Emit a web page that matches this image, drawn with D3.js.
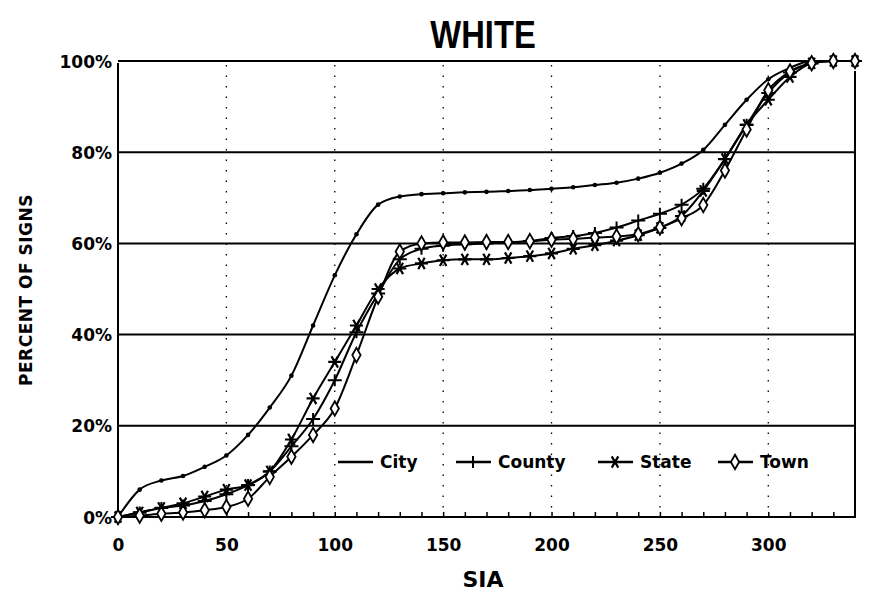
<!DOCTYPE html>
<html>
<head>
<meta charset="utf-8">
<script src="https://cdn.jsdelivr.net/npm/d3@7"></script>
<style>
  body { margin: 0; background: #fff; }
  text { fill: #000; }
</style>
</head>
<body>
<div id="chart"></div>
<script>
// SIA values where each series was sampled
var sia = [0, 10, 20, 30, 40, 50, 60, 70, 80, 90, 100, 110, 120, 130, 140, 150, 160,
  170, 180, 190, 200, 210, 220, 230, 240, 250, 260, 270, 280, 290, 300, 310, 320, 330, 340];

// Cumulative percent of signs
var cityPct = [0, 6, 8, 9, 11, 13.5, 18, 24, 31, 42, 53, 62, 68.5, 70.3, 70.8, 71, 71.2,
  71.3, 71.5, 71.7, 72, 72.3, 72.8, 73.3, 74.2, 75.5, 77.5, 80.5, 86, 91.5, 96, 98.5, 100, 100, 100];
var countyPct = [0, 1, 2, 2.5, 3.5, 5, 7, 10, 15.5, 21.5, 30, 40.5, 49, 56.5, 58.8, 59.5, 59.8,
  60, 60.2, 60.5, 61.2, 61.6, 62.3, 63.5, 65, 66.5, 68.5, 72, 78.5, 86, 93, 97.5, 99.5, 100, 100];
var statePct = [0, 1, 2, 3, 4.5, 6, 7, 10, 17, 26, 34, 42, 50, 54.5, 55.6, 56.3, 56.5,
  56.5, 56.8, 57.2, 57.8, 58.8, 59.6, 60.6, 61.8, 63.4, 66, 71.5, 78.5, 86, 91.5, 96.5, 99.5, 100, 100];
var townPct = [0, 0.3, 0.7, 1, 1.5, 2.2, 4, 8.8, 13.2, 18, 23.8, 35.5, 48.3, 58.2, 60, 60.2, 60.2,
  60.3, 60.3, 60.5, 60.8, 61, 61.3, 61.5, 62, 63.5, 65.5, 68.4, 76, 85, 93.6, 97.7, 99.5, 100, 100];

var seriesNames = ["City", "County", "State", "Town"];
var xTicks = [0, 50, 100, 150, 200, 250, 300];
var xMinorTicks = [10, 20, 30, 40, 50, 60, 70, 80, 90, 100, 110, 120, 130, 140, 150, 160,
  170, 180, 190, 200, 210, 220, 230, 240, 250, 260, 270, 280, 290, 300, 310, 320, 330];
var yTicks = [0, 20, 40, 60, 80, 100];

var width = 873;
var height = 598;
var plotLeft = 118, plotRight = 855, plotTop = 61, plotBottom = 517;
var labelFont = "DejaVu Sans, sans-serif";

var svg = d3.select("#chart")
  .append("svg")
  .attr("width", width)
  .attr("height", height);

var x = d3.scaleLinear().domain([0, 340]).range([plotLeft, plotRight]);
var y = d3.scaleLinear().domain([0, 100]).range([plotBottom, plotTop]);

// dotted vertical guides at the labelled SIA values
svg.selectAll("vGrid")
  .data(xTicks.slice(1))
  .enter()
  .append("line")
  .attr("x1", d => x(d)).attr("x2", d => x(d))
  .attr("y1", plotTop + 4).attr("y2", plotBottom)
  .attr("stroke", "#000")
  .attr("stroke-width", 1.3)
  .attr("stroke-dasharray", "1.5,9");

// solid horizontal grid lines
svg.selectAll("hGrid")
  .data(yTicks.slice(1))
  .enter()
  .append("line")
  .attr("x1", plotLeft).attr("x2", d => d == 100 ? plotRight + 5 : plotRight)
  .attr("y1", d => y(d)).attr("y2", d => y(d))
  .attr("stroke", "#000")
  .attr("stroke-width", 2);

// minor ticks along the bottom, pointing into the plot
svg.append("g")
  .attr("transform", "translate(0," + plotBottom + ")")
  .call(d3.axisBottom(x).tickValues(xMinorTicks).tickSize(-5).tickFormat(""))
  .call(g => g.select(".domain").remove())
  .call(g => g.selectAll("line").attr("stroke-width", 1.5));

// frame: left, bottom, right
svg.append("path")
  .attr("d", "M" + plotLeft + "," + (plotTop + 2) + "V" + plotBottom + "H" + plotRight + "V" + (plotTop + 10))
  .attr("fill", "none")
  .attr("stroke", "#000")
  .attr("stroke-width", 2);

// x labels
svg.append("g")
  .attr("transform", "translate(0," + plotBottom + ")")
  .call(d3.axisBottom(x).tickValues(xTicks).tickSize(0).tickPadding(22))
  .call(g => g.select(".domain").remove())
  .selectAll("text")
  .style("font-family", labelFont)
  .style("font-weight", "bold")
  .style("font-size", "17px")
  .attr("fill", "#000");

// y labels
svg.append("g")
  .attr("transform", "translate(" + plotLeft + ",0)")
  .call(d3.axisLeft(y).tickValues(yTicks).tickSize(0).tickPadding(6).tickFormat(d => d + "%"))
  .call(g => g.select(".domain").remove())
  .selectAll("text")
  .attr("dy", "0.36em")
  .style("font-family", labelFont)
  .style("font-weight", "bold")
  .style("font-size", "17px")
  .attr("fill", "#000");

// series lines
var series = [
  { name: "City", values: cityPct },
  { name: "County", values: countyPct },
  { name: "State", values: statePct },
  { name: "Town", values: townPct }
];

var line = d3.line()
  .x((d, i) => x(sia[i]))
  .y(d => y(d))
  .curve(d3.curveMonotoneX);

svg.selectAll("seriesLine")
  .data(series)
  .enter()
  .append("path")
  .attr("d", d => line(d.values))
  .attr("fill", "none")
  .attr("stroke", "#000")
  .attr("stroke-width", 2);

// marker drawing per series
function drawMarker(g, name) {
  if (name == "City") {
    g.append("circle").attr("r", 2.3).attr("fill", "#000");
  } else if (name == "County") {
    g.append("path")
      .attr("d", "M-7,0H7M0,-6V6")
      .attr("stroke", "#000")
      .attr("stroke-width", 2);
  } else if (name == "State") {
    g.append("path")
      .attr("d", d3.symbol(d3.symbolAsterisk, 120)())
      .attr("transform", "rotate(90)")
      .attr("stroke", "#000")
      .attr("stroke-width", 2.2);
  } else {
    g.append("path")
      .attr("d", d3.symbol(d3.symbolDiamond, 60)())
      .attr("fill", "#fff")
      .attr("stroke", "#000")
      .attr("stroke-width", 1.8);
  }
}

series.forEach(function (s) {
  svg.selectAll("marker" + s.name)
    .data(s.values)
    .enter()
    .append("g")
    .attr("transform", (d, i) => "translate(" + x(sia[i]) + "," + y(d) + ")")
    .each(function () { drawMarker(d3.select(this), s.name); });
});

// legend inside the plot
var legendX = [338, 456, 598, 718];
var legend = svg.selectAll("legend")
  .data(seriesNames)
  .enter()
  .append("g")
  .attr("transform", (d, i) => "translate(" + legendX[i] + ",462)");

legend.append("line")
  .attr("x1", 0).attr("x2", 35)
  .attr("stroke", "#000")
  .attr("stroke-width", 2.5);

legend.append("g")
  .attr("transform", "translate(17,0)")
  .each(function (d) { if (d != "City") drawMarker(d3.select(this), d); });

legend.append("text")
  .attr("x", 42)
  .attr("dy", "0.36em")
  .style("font-family", labelFont)
  .style("font-weight", "bold")
  .style("font-size", "17px")
  .text(d => d);

// titles
svg.append("text")
  .attr("transform", "translate(483,48) scale(0.84,1)")
  .attr("text-anchor", "middle")
  .style("font-family", "Liberation Sans, Arial, sans-serif")
  .style("font-weight", "bold")
  .style("font-size", "39px")
  .text("WHITE");

svg.append("text")
  .attr("transform", "translate(32,290) rotate(-90)")
  .attr("text-anchor", "middle")
  .style("font-family", labelFont)
  .style("font-weight", "bold")
  .style("font-size", "17px")
  .style("letter-spacing", "0.5px")
  .text("PERCENT OF SIGNS");

svg.append("text")
  .attr("x", 483)
  .attr("y", 587)
  .attr("text-anchor", "middle")
  .style("font-family", labelFont)
  .style("font-weight", "bold")
  .style("font-size", "22px")
  .text("SIA");
</script>
</body>
</html>
